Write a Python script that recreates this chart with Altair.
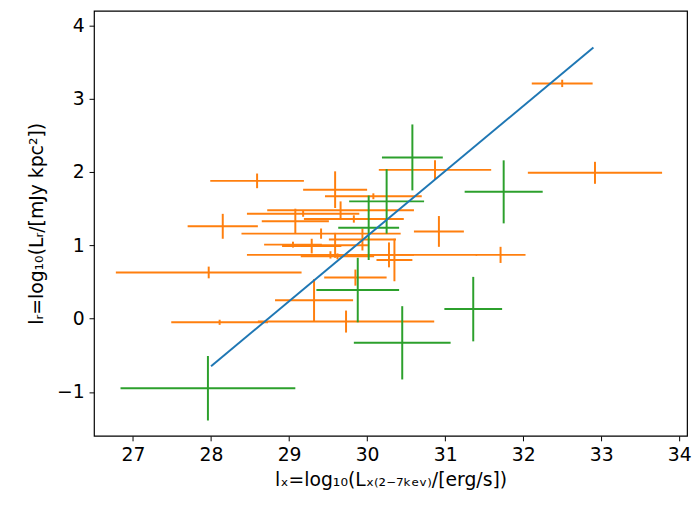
import altair as alt
import pandas as pd

# Orange group
o_x    = [28.59, 28.15, 27.97, 28.11, 29.73, 29.32, 29.85, 31.71, 30.28, 30.92, 30.87, 32.50, 32.92,
          29.59, 30.08, 29.66, 29.08, 29.83, 29.18, 29.41, 29.94, 29.05, 29.29, 29.53, 29.62, 30.35, 29.59]
o_y    = [1.88, 1.26, 0.63, -0.05, -0.04, 0.25, 0.56, 0.87, 0.87, 1.19, 2.03, 3.21, 1.99,
          1.76, 1.67, 1.48, 1.33, 1.36, 1.43, 1.16, 1.08, 1.01, 0.99, 0.87, 0.85, 0.80, 1.00]
o_xerr = [0.60, 0.45, 1.19, 0.62, 1.13, 0.50, 0.40, 0.32, 1.13, 0.32, 0.72, 0.39, 0.86,
          0.41, 0.62, 0.94, 0.43, 0.64, 0.72, 1.02, 0.43, 0.37, 0.38, 1.07, 0.47, 0.23, 0.42]
o_yerr = [0.10, 0.17, 0.08, 0.035, 0.15, 0.29, 0.11, 0.11, 0.17, 0.21, 0.13, 0.05, 0.15,
          0.25, 0.04, 0.12, 0.17, 0.05, 0.04, 0.07, 0.15, 0.04, 0.10, 0.05, 0.04, 0.29, 0.17]

# Green group
g_x    = [27.96, 30.58, 31.75, 30.25, 30.02, 29.88, 31.36, 30.45]
g_y    = [-0.95, 2.20, 1.73, 1.60, 1.24, 0.39, 0.13, -0.33]
g_xerr = [1.12, 0.39, 0.50, 0.48, 0.39, 0.53, 0.37, 0.62]
g_yerr = [0.44, 0.45, 0.43, 0.44, 0.44, 0.44, 0.44, 0.50]

# Fit line
line_x = [28.0, 32.9]
line_y = [-0.65, 3.70]

x_ticks = [27, 28, 29, 30, 31, 32, 33, 34]
y_ticks = [-1, 0, 1, 2, 3, 4]

def make_df(xs, ys, xe, ye):
    df = pd.DataFrame({"x": xs, "y": ys, "xe": xe, "ye": ye})
    df["xlo"] = df["x"] - df["xe"]
    df["xhi"] = df["x"] + df["xe"]
    df["ylo"] = df["y"] - df["ye"]
    df["yhi"] = df["y"] + df["ye"]
    return df

odf = make_df(o_x, o_y, o_xerr, o_yerr)
gdf = make_df(g_x, g_y, g_xerr, g_yerr)
ldf = pd.DataFrame({"x": line_x, "y": line_y})

xscale = alt.Scale(domain=[26.5, 34.1], nice=False, zero=False)
yscale = alt.Scale(domain=[-1.6, 4.2], nice=False, zero=False)

common = dict(grid=False, labelFontSize=19, titleFontSize=19, titleFontWeight="normal",
              labelFont="DejaVu Sans", titleFont="DejaVu Sans", labelColor="black",
              titleColor="black", tickColor="black", tickWidth=1, domain=False, tickSize=5)
xaxis = alt.Axis(values=x_ticks, title="lₓ=log₁₀(Lₓ₍₂₋₇ₖₑᵥ₎/[erg/s])",
                 labelPadding=5, titlePadding=6, **common)
yaxis = alt.Axis(values=y_ticks, title="lᵣ=log₁₀(Lᵣ/[mJy kpc²])",
                 labelPadding=5, titlePadding=10, **common)

def bars(df, color):
    h = alt.Chart(df).mark_rule(color=color, strokeWidth=2).encode(
        x=alt.X("xlo:Q", scale=xscale, axis=xaxis),
        x2="xhi:Q",
        y=alt.Y("y:Q", scale=yscale, axis=yaxis),
    )
    v = alt.Chart(df).mark_rule(color=color, strokeWidth=2).encode(
        x=alt.X("x:Q", scale=xscale, axis=xaxis),
        y=alt.Y("ylo:Q", scale=yscale, axis=yaxis),
        y2="yhi:Q",
    )
    return h + v

line = alt.Chart(ldf).mark_line(color="#1f77b4", strokeWidth=2).encode(
    x=alt.X("x:Q", scale=xscale, axis=xaxis),
    y=alt.Y("y:Q", scale=yscale, axis=yaxis),
)

chart = alt.layer(bars(odf, "#ff7f0e"), bars(gdf, "#2ca02c"), line).properties(
    width=600, height=430,
    autosize=alt.AutoSizeParams(type="none"),
    padding={"left": 87, "top": 0, "right": 5, "bottom": 64},
    background="white",
).configure_view(stroke="black", strokeWidth=1.2)

chart.save("out.html", embed_options={"renderer": "svg", "actions": False})
